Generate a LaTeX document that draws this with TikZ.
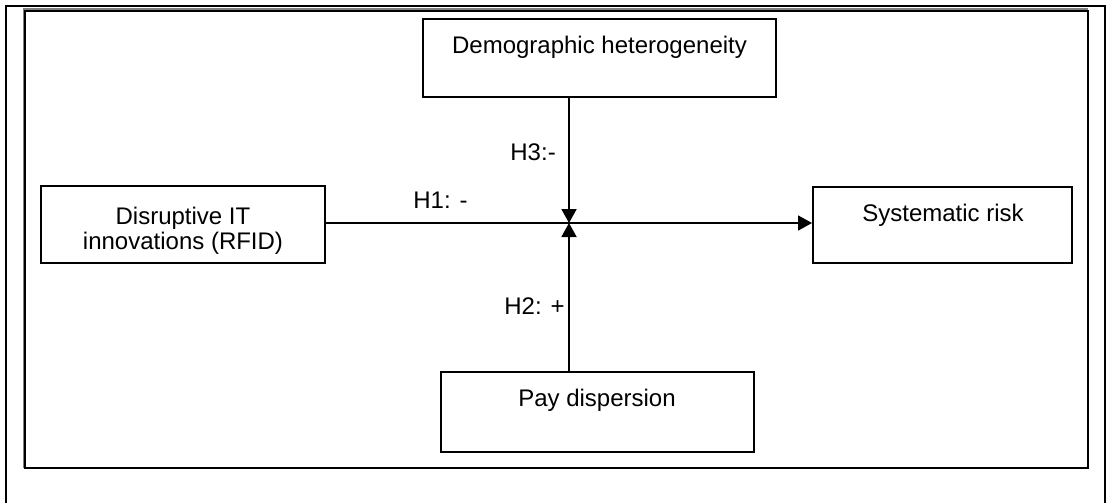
\documentclass[tikz,border=0pt]{standalone}
\usepackage{fontspec}
\setmainfont{Liberation Sans}
\usetikzlibrary{arrows.meta, positioning}
\definecolor{FrameGray}{RGB}{128, 128, 128}

\begin{document}
\begin{tikzpicture}[x=0.5pt, y=-0.5pt,
    box/.style={draw, line width=1pt, inner sep=0pt},
    txt/.style={inner sep=0pt, font=\fontsize{12}{12}\selectfont},
    link/.style={line width=0.9pt, -{Triangle[length=7pt, width=7.5pt]}}]
    \useasboundingbox (0,0) rectangle (1106,503);

    % Frames
    \draw[line width=1.2pt] (5.7,503) -- (5.7,5.7) -- (1105,5.7) -- (1105,503);
    \draw[FrameGray, line width=0.8pt] (23.5,467.5) -- (23.5,9) -- (1088,9);
    \draw[line width=1pt] (25,10.5) rectangle (1088,467.5);

    % Boxes
    \node[box, minimum width=176.5pt, minimum height=39pt] (demog) at (599.5,58) {};
    \node[box, minimum width=142pt, minimum height=38.5pt] (disrupt) at (183,224.5) {};
    \node[box, minimum width=129.5pt, minimum height=38pt] (sysrisk) at (942.5,225) {};
    \node[box, minimum width=156.5pt, minimum height=40pt] (pay) at (597.5,412) {};

    % Box texts
    \node[txt, anchor=north, align=center, font=\fontsize{12}{12.5}\selectfont]
      (disrupttxt) at (183,207) {Disruptive IT\\innovations (RFID)};
    \node[txt, anchor=base] (demogtxt) at (599.5,53) {Demographic heterogeneity};
    \node[txt, anchor=base] (sysrisktxt) at (943,221) {Systematic risk};
    \node[txt, anchor=base] (paytxt) at (597,406) {Pay dispersion};

    % Links
    \coordinate (meet) at (569,223);
    \draw[link] (disrupt.east |- meet) -- (sysrisk.west |- meet);
    \draw[link] (demog.south -| meet) -- (meet);
    \draw[link] (pay.north -| meet) -- (meet);

    % Hypotheses
    \node[txt, anchor=base west] (h1) at (413,208) {H1: -};
    \node[txt, anchor=base west] (h3) at (510,160) {H3:-};
    \node[txt, anchor=base west] (h2) at (504,314) {H2: +};
\end{tikzpicture}
\end{document}
